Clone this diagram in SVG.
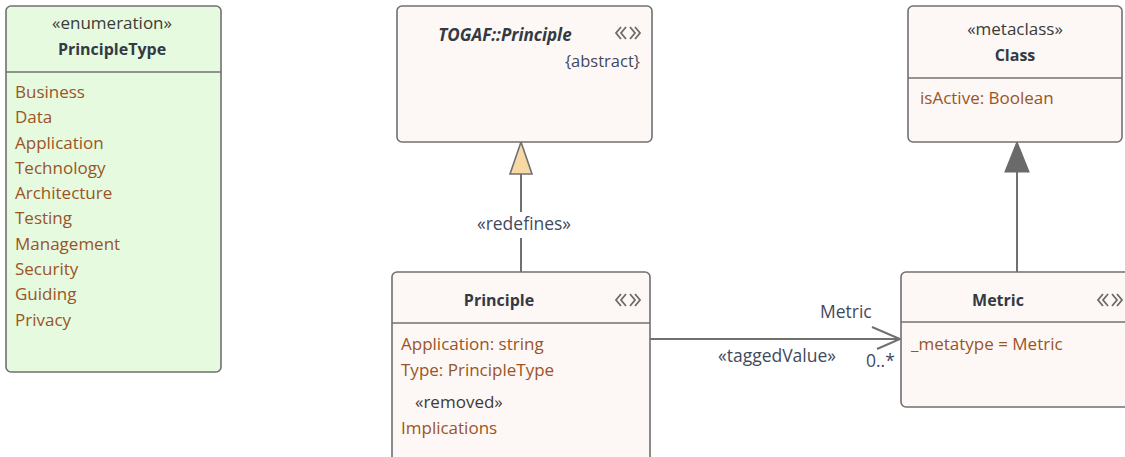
<svg xmlns="http://www.w3.org/2000/svg" width="1125" height="457" viewBox="0 0 1125 457">
<style>
text{font-family:"Open Sans","Noto Sans","Liberation Sans",sans-serif;font-size:17px}
.box{fill:#fdf8f5;stroke:#707070;stroke-width:1.6}
.enum{fill:#e6fae0;stroke:#707070;stroke-width:1.6}
.div{stroke:#707070;stroke-width:1.6}
.st{fill:#3a3a3a;text-anchor:middle}
.name{fill:#333a44;font-weight:bold;text-anchor:middle;font-size:16px}
.attr{fill:#9a5426}
.lbl{fill:#3f4a5e;font-size:17.5px}
.con{stroke:#707070;stroke-width:2;fill:none}
.ico{stroke:#6a6a6a;stroke-width:1.8;fill:none}
</style>
<defs>
<g id="icon">
<polyline class="ico" points="6,-6 1,0 6,6"/>
<polyline class="ico" points="11,-6 6,0 11,6"/>
<polyline class="ico" points="15,-6 20,0 15,6"/>
<polyline class="ico" points="20,-6 25,0 20,6"/>
</g>
</defs>
<g id="connectors">
<line class="con" x1="521" y1="272" x2="521" y2="238"/>
<line class="con" x1="521" y1="212" x2="521" y2="174"/>
<polygon points="521,142 510,174 532,174" fill="#f7d9a6" stroke="#707070" stroke-width="1.6"/>
<text class="lbl" x="524" y="230" style="text-anchor:middle">«redefines»</text>
<line class="con" x1="1017" y1="272" x2="1017" y2="172"/>
<polygon points="1017,142 1005,172 1029,172" fill="#6a6a6a" stroke="#6a6a6a" stroke-width="1.2"/>
<line class="con" x1="650" y1="339" x2="900" y2="339"/>
<polyline class="con" points="872,327 900,339 877,349"/>
<text class="lbl" x="820" y="318">Metric</text>
<text class="lbl" x="777" y="362" style="text-anchor:middle">«taggedValue»</text>
<text class="lbl" x="866" y="367">0..*</text>
</g>
<g id="PrincipleType">
<rect class="enum" x="6" y="6" width="215" height="366" rx="5"/>
<line class="div" x1="6" y1="72" x2="221" y2="72"/>
<text class="st" x="112" y="29">«enumeration»</text>
<text class="name" x="112" y="55">PrincipleType</text>
<text class="attr" x="15" y="98">Business</text>
<text class="attr" x="15" y="123">Data</text>
<text class="attr" x="15" y="149">Application</text>
<text class="attr" x="15" y="174">Technology</text>
<text class="attr" x="15" y="199">Architecture</text>
<text class="attr" x="15" y="224">Testing</text>
<text class="attr" x="15" y="250">Management</text>
<text class="attr" x="15" y="275">Security</text>
<text class="attr" x="15" y="300">Guiding</text>
<text class="attr" x="15" y="326">Privacy</text>
</g>
<g id="TOGAFPrinciple">
<rect class="box" x="397" y="6" width="255" height="136" rx="5"/>
<text class="name" x="505" y="41" style="font-style:italic;font-size:17px">TOGAF::Principle</text>
<use href="#icon" x="615" y="33"/>
<text class="lbl" x="640" y="67" style="text-anchor:end;font-size:16.5px">{abstract}</text>
</g>
<g id="Class">
<rect class="box" x="908" y="6" width="214" height="136" rx="5"/>
<line class="div" x1="908" y1="78" x2="1122" y2="78"/>
<text class="st" x="1015" y="35">«metaclass»</text>
<text class="name" x="1015" y="61">Class</text>
<text class="attr" x="920" y="104">isActive: Boolean</text>
</g>
<g id="Principle">
<rect class="box" x="392" y="272" width="258" height="195" rx="5"/>
<line class="div" x1="392" y1="323" x2="650" y2="323"/>
<text class="name" x="499" y="306">Principle</text>
<use href="#icon" x="615" y="300"/>
<text class="attr" x="401" y="350">Application: string</text>
<text class="attr" x="401" y="376">Type: PrincipleType</text>
<text class="st" x="415" y="408" style="text-anchor:start">«removed»</text>
<text class="attr" x="401" y="434">Implications</text>
</g>
<g id="Metric">
<rect class="box" x="901" y="272" width="234" height="135" rx="5"/>
<line class="div" x1="901" y1="322" x2="1135" y2="322"/>
<text class="name" x="998" y="306">Metric</text>
<use href="#icon" x="1097" y="300"/>
<text class="attr" x="911" y="350">_metatype = Metric</text>
</g>
</svg>
